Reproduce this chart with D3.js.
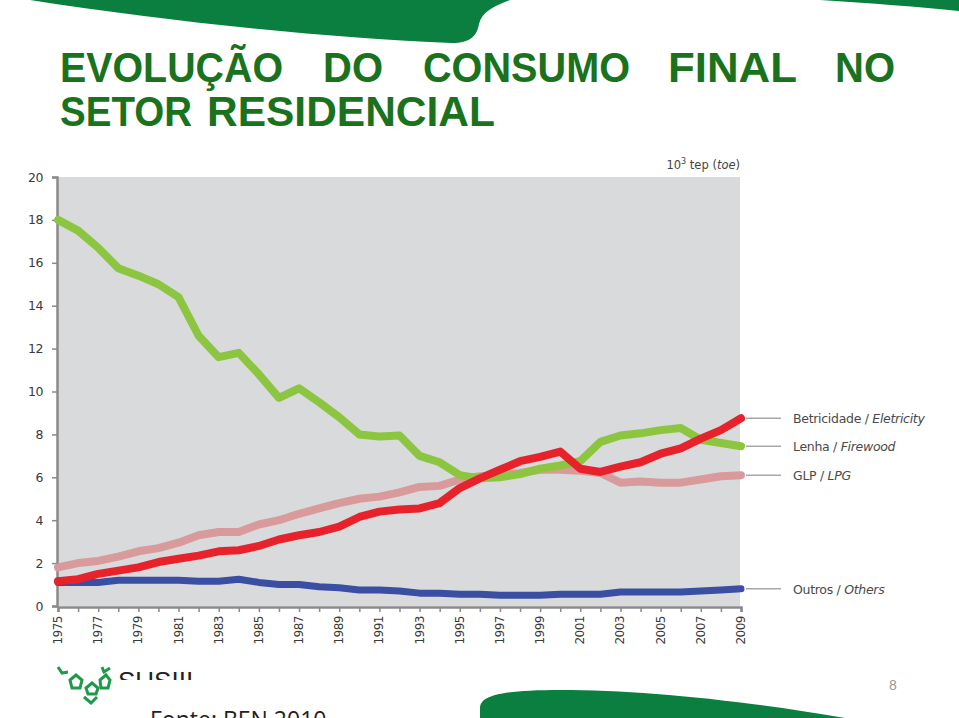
<!DOCTYPE html>
<html><head><meta charset="utf-8">
<script src="https://cdn.jsdelivr.net/npm/d3@7"></script>
<style>
html,body{margin:0;padding:0;background:#fff;overflow:hidden}
svg{display:block}
</style></head>
<body>
<script>
const years = d3.range(1975, 2010);
const tickYears = years.filter(y => (y - 1975) % 2 === 0);
const yTicks = [0, 2, 4, 6, 8, 10, 12, 14, 16, 18, 20];

const eletricidade = [1.15,1.25,1.5,1.65,1.8,2.05,2.2,2.35,2.55,2.6,2.8,3.1,3.3,3.45,3.7,4.15,4.4,4.5,4.55,4.8,5.5,5.95,6.35,6.75,6.95,7.2,6.4,6.25,6.5,6.7,7.1,7.35,7.8,8.2,8.75];
const lenha = [18.0,17.5,16.7,15.75,15.4,15.0,14.4,12.6,11.6,11.8,10.8,9.7,10.15,9.5,8.8,8.0,7.9,7.95,7.0,6.7,6.1,5.95,6.0,6.15,6.4,6.55,6.75,7.65,7.95,8.05,8.2,8.3,7.75,7.6,7.45];
const glp = [1.8,2.0,2.1,2.3,2.55,2.7,2.95,3.3,3.45,3.45,3.8,4.0,4.3,4.55,4.8,5.0,5.1,5.3,5.55,5.6,5.9,6.05,6.1,6.2,6.35,6.35,6.3,6.2,5.75,5.8,5.75,5.75,5.9,6.05,6.1];
const outros = [1.1,1.1,1.1,1.2,1.2,1.2,1.2,1.15,1.15,1.25,1.1,1.0,1.0,0.9,0.85,0.75,0.75,0.7,0.6,0.6,0.55,0.55,0.5,0.5,0.5,0.55,0.55,0.55,0.65,0.65,0.65,0.65,0.7,0.75,0.8];

const seriesNames = ["Outros", "GLP", "Lenha", "Eletricidade"];
const legendMain = ["Outros / ", "GLP / ", "Lenha / ", "Betricidade / "];
const legendItalic = ["Others", "LPG", "Firewood", "Eletricity"];
const seriesValues = [outros, glp, lenha, eletricidade];
const seriesColors = ["#3a4ea3", "#d99a9b", "#8cc641", "#e8222b"];

const titleLine1 = ["EVOLUÇÃO", "DO", "CONSUMO", "FINAL", "NO"];
const titleLine2 = ["SETOR", "RESIDENCIAL"];
const unitLabel = ["10", "3", " tep (", "toe", ")"];
const sourceText = "Fonte: BEN 2010";
const pageNumber = "8";

const W = 959, H = 718;
const svg = d3.select("body").append("svg").attr("width", W).attr("height", H);

const swoosh = "#0a7f3f";
// decorative swooshes
svg.append("path").attr("fill", swoosh)
  .attr("d", "M30,0 L510,0 C492,7 482,12 479,24 C477,36 470,43 452,43 C330,38 170,22 30,0 Z");
svg.append("path").attr("fill", swoosh)
  .attr("d", "M820,0 L959,0 L959,11 C920,7 870,3 820,0 Z");
svg.append("path").attr("fill", swoosh)
  .attr("d", "M480,718 L480,708 C480,696 500,690 560,690 C640,690 740,700 845,718 Z");

// title (words laid out to match the justified slide title)
const titleColor = "#1a721c";
const titleFont = "'Liberation Sans',Arial,sans-serif";
const line1Extents = [[60, 283], [323, 383], [423, 630], [668, 797], [835, 895]];
const line2Extents = [[60, 192], [207, 495]];
function drawTitleLine(words, extents, baseline) {
  svg.append("g").selectAll("text").data(words).join("text")
    .attr("x", (d, i) => extents[i][0]).attr("y", baseline)
    .attr("textLength", (d, i) => extents[i][1] - extents[i][0])
    .attr("lengthAdjust", "spacingAndGlyphs")
    .style("font-family", titleFont).style("font-weight", "bold").style("font-size", "42px")
    .attr("fill", titleColor).text(d => d);
}
drawTitleLine(titleLine1, line1Extents, 82);
drawTitleLine(titleLine2, line2Extents, 126);

// chart
const x = d3.scaleLinear().domain([1975, 2009]).range([58, 741]);
const y = d3.scaleLinear().domain([0, 20]).range([606, 177]);

svg.append("rect").attr("x", x(1975)).attr("y", y(20))
  .attr("width", 740 - x(1975)).attr("height", y(0) - y(20)).attr("fill", "#d9dadc");

const axisFont = "'DejaVu Sans','Liberation Sans',sans-serif";
const yAxis = svg.append("g").attr("transform", `translate(${x(1975) - 1},0)`)
  .call(d3.axisLeft(y).tickValues(yTicks).tickSize(5).tickPadding(9).tickFormat(d3.format("d")));
yAxis.select(".domain").attr("stroke", "#8a8a8a").attr("stroke-width", 2.5);
yAxis.selectAll(".tick line").attr("stroke", "#8a8a8a").attr("stroke-width", 1.5);
yAxis.selectAll(".tick text").style("font-family", axisFont).style("font-size", "12.5px")
  .attr("fill", "#3a3a3a").style("letter-spacing", "-0.5px");

const xAxis = svg.append("g").attr("transform", `translate(0,${y(0) + 1})`)
  .call(d3.axisBottom(x).tickValues(years).tickSize(5).tickFormat(""));
xAxis.select(".domain").attr("stroke", "#8a8a8a").attr("stroke-width", 2.5);
xAxis.selectAll(".tick line").attr("stroke", "#8a8a8a").attr("stroke-width", 1.5);

svg.append("g").selectAll("text").data(tickYears).join("text")
  .attr("transform", d => `translate(${x(d) + 4},${y(0) + 10}) rotate(-90)`)
  .attr("text-anchor", "end")
  .style("font-family", axisFont).style("font-size", "12px")
  .style("letter-spacing", "-0.5px")
  .attr("fill", "#3a3a3a").text(d => d);

// unit label
const ut = svg.append("text").attr("x", 740).attr("y", 169).attr("text-anchor", "end")
  .style("font-family", axisFont).style("font-size", "11.5px").attr("fill", "#444");
ut.append("tspan").text(unitLabel[0]);
ut.append("tspan").attr("dy", -5).style("font-size", "8px").text(unitLabel[1]);
ut.append("tspan").attr("dy", 5).text(unitLabel[2]);
ut.append("tspan").style("font-style", "italic").text(unitLabel[3]);
ut.append("tspan").text(unitLabel[4]);

// lines
const line = d3.line().x((d, i) => x(years[i])).y(d => y(d));
seriesValues.forEach((vals, k) => {
  svg.append("path").datum(vals)
    .attr("d", line).attr("fill", "none")
    .attr("stroke", seriesColors[k]).attr("stroke-width", k === 0 ? 7 : 8)
    .attr("stroke-linejoin", "round").attr("stroke-linecap", "round");
});

// legend leaders + labels
seriesValues.forEach((vals, k) => {
  const ly = y(vals[vals.length - 1]);
  svg.append("line").attr("x1", 746).attr("x2", 781).attr("y1", ly).attr("y2", ly)
    .attr("stroke", "#a8a8a8").attr("stroke-width", 1.5);
  const t = svg.append("text").attr("x", 793).attr("y", ly + 5)
    .style("font-family", axisFont).style("font-size", "12.5px")
    .style("letter-spacing", "-0.3px").attr("fill", "#4a4a4a");
  t.append("tspan").text(legendMain[k]);
  t.append("tspan").style("font-style", "italic").text(legendItalic[k]);
});

// logo (approximate)
const logo = svg.append("g").attr("fill", "none").attr("stroke", "#1f9a4a").attr("stroke-width", 3);
logo.append("path").attr("d", "M58,667 L62,673 L68,672");
logo.append("path").attr("d", "M70,680 L76,675 L82,680 L80,688 L72,688 Z");
logo.append("path").attr("d", "M86,688 L92,683 L98,688 L96,694 L88,694 Z");
logo.append("path").attr("d", "M100,680 L106,675 L110,680 L108,688 L101,688 Z");
logo.append("path").attr("d", "M102,667 L104,672 L110,668");
logo.append("path").attr("d", "M84,697 L91,703 L97,697");
svg.append("defs").append("clipPath").attr("id", "logoclip")
  .append("rect").attr("x", 110).attr("y", 650).attr("width", 100).attr("height", 30);
svg.append("text").attr("x", 118).attr("y", 690).attr("clip-path", "url(#logoclip)")
  .style("font-family", "'Liberation Sans',Arial,sans-serif").style("font-size", "26px")
  .attr("fill", "#222").text("SUSIII");

// page number
svg.append("text").attr("x", 893).attr("y", 690).attr("text-anchor", "middle")
  .style("font-family", "'Liberation Sans',Arial,sans-serif").style("font-size", "14px")
  .attr("fill", "#999").text(pageNumber);

// source (partly below the page edge, as on the slide)
svg.append("text").attr("x", 150).attr("y", 728)
  .style("font-family", "'Open Sans','Liberation Sans',sans-serif").style("font-size", "23px")
  .attr("fill", "#222").text(sourceText);
</script>
</body></html>
